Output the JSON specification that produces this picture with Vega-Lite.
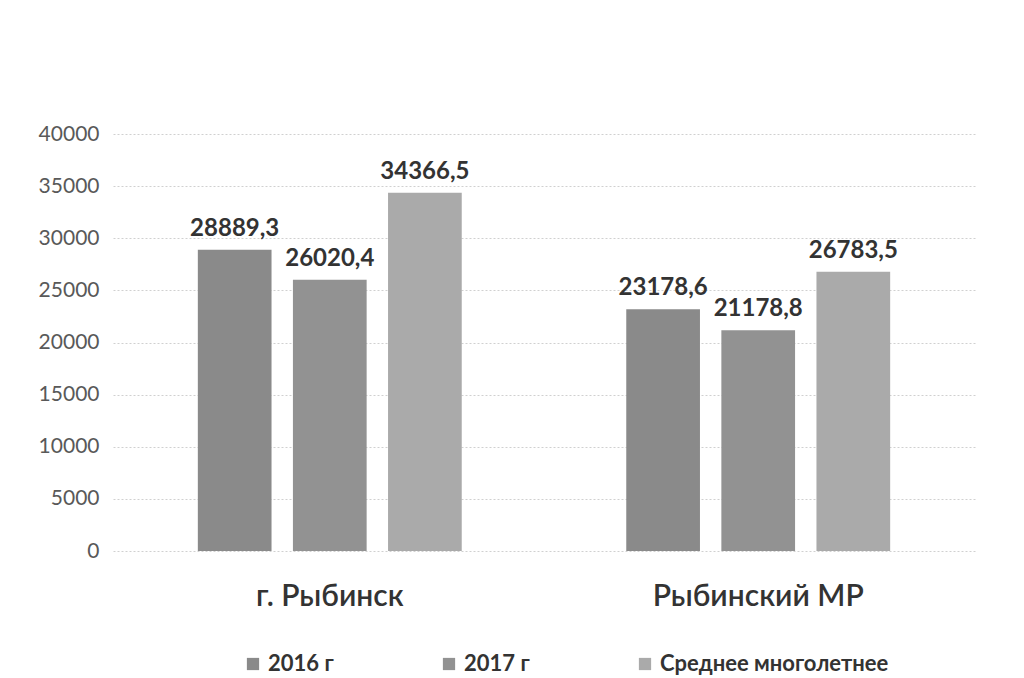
{
  "$schema": "https://vega.github.io/schema/vega-lite/v6.json",
  "autosize": "none",
  "width": 862,
  "height": 417,
  "padding": {"left": 113, "top": 134, "right": 49, "bottom": 127},
  "background": "#ffffff",
  "config": {
    "locale": {"number": {"decimal": ",", "thousands": "", "grouping": [3], "currency": ["", ""]}},
    "view": {"stroke": null},
    "font": "Lato"
  },
  "data": {
    "values": [
      {"region": "г. Рыбинск", "series": "2016 г", "value": 28889.3},
      {"region": "г. Рыбинск", "series": "2017 г", "value": 26020.4},
      {"region": "г. Рыбинск", "series": "Среднее многолетнее", "value": 34366.5},
      {"region": "Рыбинский МР", "series": "2016 г", "value": 23178.6},
      {"region": "Рыбинский МР", "series": "2017 г", "value": 21178.8},
      {"region": "Рыбинский МР", "series": "Среднее многолетнее", "value": 26783.5}
    ]
  },
  "encoding": {
    "x": {
      "field": "region", "type": "nominal", "sort": null,
      "scale": {"paddingInner": 0.384, "paddingOuter": 0.198},
      "axis": {"title": null, "labelAngle": 0, "domain": false, "ticks": false, "labelPadding": 30, "labelFontSize": 30, "labelColor": "#333333", "labelFontWeight": 600, "labelFont": "Lato", "labelLimit": 0}
    },
    "xOffset": {"field": "series", "type": "nominal", "sort": null, "scale": {"paddingInner": 0.225, "paddingOuter": 0}},
    "y": {
      "field": "value", "type": "quantitative",
      "scale": {"domain": [0, 40000], "nice": false},
      "axis": {"title": null, "values": [0, 5000, 10000, 15000, 20000, 25000, 30000, 35000, 40000], "format": "d", "domain": false, "ticks": false, "labelPadding": 14, "labelFontSize": 21, "labelColor": "#595959", "gridColor": "#d0d0d0", "gridDash": [2, 2], "gridWidth": 1}
    }
  },
  "layer": [
    {
      "mark": {"type": "bar"},
      "encoding": {
        "color": {
          "field": "series", "type": "nominal", "sort": null,
          "scale": {"domain": ["2016 г", "2017 г", "Среднее многолетнее"], "range": ["#8a8a8a", "#929292", "#aaaaaa"]},
          "legend": {
            "title": null, "orient": "none", "direction": "horizontal",
            "legendX": 129, "legendY": 519,
            "symbolType": "square", "symbolSize": 150, "symbolStrokeWidth": 0,
            "labelFontSize": 22, "labelFontWeight": "bold", "labelColor": "#333333",
            "labelLimit": 0, "columnPadding": 104, "labelOffset": 4
          }
        }
      }
    },
    {
      "mark": {"type": "text", "baseline": "bottom", "dy": -9, "fontSize": 24, "fontWeight": "bold", "color": "#333333"},
      "encoding": {
        "text": {"field": "value", "type": "quantitative", "format": ".1f"}
      }
    }
  ]
}
